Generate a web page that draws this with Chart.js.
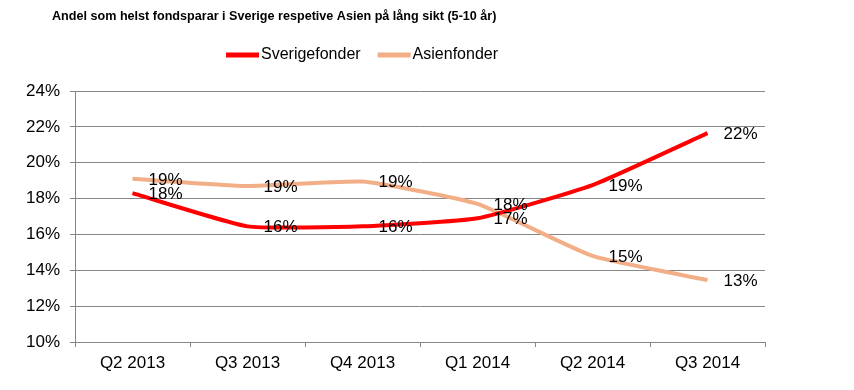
<!DOCTYPE html>
<html>
<head>
<meta charset="utf-8">
<script src="https://cdn.jsdelivr.net/npm/chart.js@4"></script>
<style>
  html, body { margin: 0; padding: 0; background: #fff; }
  #wrap { width: 854px; height: 390px; }
</style>
</head>
<body>
<div id="wrap"><canvas id="chart" width="854" height="390"></canvas></div>
<script>
const quarters = ["Q2 2013", "Q3 2013", "Q4 2013", "Q1 2014", "Q2 2014", "Q3 2014"];
const sverigefonder = [18.3, 16.45, 16.45, 16.9, 18.75, 21.65];
const asienfonder = [19.1, 18.7, 18.95, 17.7, 14.8, 13.45];
const yTicks = [10, 12, 14, 16, 18, 20, 22, 24];

const titleText = "Andel som helst fondsparar i Sverige respetive Asien på lång sikt (5-10 år)";
const FONT = "'Liberation Sans', Arial, sans-serif";
const GRID = "#868686";

// title + legend, drawn by hand to sit where the original has them
const headerPlugin = {
    id: "header",
    afterDraw(chart) {
        const ctx = chart.ctx;
        ctx.save();
        ctx.fillStyle = "#000";
        ctx.font = "bold 12.6px " + FONT;
        ctx.textBaseline = "middle";
        ctx.textAlign = "left";
        ctx.fillText(titleText, 52, 17);

        ctx.font = "16px " + FONT;
        let x = 226;
        chart.data.datasets.forEach(ds => {
            ctx.strokeStyle = ds.borderColor;
            ctx.lineWidth = 5;
            ctx.lineCap = "butt";
            ctx.beginPath();
            ctx.moveTo(x, 55);
            ctx.lineTo(x + 33, 55);
            ctx.stroke();
            ctx.fillStyle = "#000";
            ctx.fillText(ds.label, x + 35, 55);
            x += 35 + ctx.measureText(ds.label).width + 17;
        });
        ctx.restore();
    }
};

// value labels right of each point
const valueLabels = {
    id: "valueLabels",
    afterDatasetsDraw(chart) {
        const ctx = chart.ctx;
        ctx.save();
        ctx.font = "17px " + FONT;
        ctx.fillStyle = "#000";
        ctx.textAlign = "left";
        ctx.textBaseline = "middle";
        chart.data.datasets.forEach((ds, i) => {
            chart.getDatasetMeta(i).data.forEach((pt, j) => {
                ctx.fillText(Math.round(ds.data[j]) + "%", pt.x + 16, pt.y + 1);
            });
        });
        ctx.restore();
    }
};

new Chart(document.getElementById("chart"), {
    type: "line",
    data: {
        labels: quarters,
        datasets: [{
            label: "Sverigefonder",
            data: sverigefonder,
            borderColor: "#ff0000",
            borderWidth: 4,
            tension: 0.15,
            pointRadius: 0
        }, {
            label: "Asienfonder",
            data: asienfonder,
            borderColor: "#f2ae86",
            borderWidth: 4,
            tension: 0.15,
            pointRadius: 0
        }]
    },
    options: {
        responsive: false,
        animation: false,
        layout: { padding: { top: 91, right: 89, left: 0, bottom: 0 } },
        plugins: {
            legend: { display: false },
            title: { display: false },
            tooltip: { enabled: false }
        },
        scales: {
            x: {
                offset: true,
                afterFit(scale) { scale.height = 48; },
                grid: {
                    offset: true,
                    drawOnChartArea: false,
                    drawTicks: true,
                    tickLength: 5,
                    color: GRID
                },
                border: { color: GRID },
                ticks: {
                    color: "#000",
                    font: { family: FONT, size: 17 },
                    padding: 6,
                    maxRotation: 0
                }
            },
            y: {
                min: 10,
                max: 24,
                afterFit(scale) { scale.width = 75; },
                afterBuildTicks(scale) { scale.ticks = yTicks.map(v => ({ value: v })); },
                grid: {
                    color: GRID,
                    tickLength: 5,
                    drawTicks: true
                },
                border: { color: GRID },
                ticks: {
                    color: "#000",
                    font: { family: FONT, size: 17 },
                    padding: 10,
                    callback: v => v + "%"
                }
            }
        }
    },
    plugins: [headerPlugin, valueLabels]
});
</script>
</body>
</html>
